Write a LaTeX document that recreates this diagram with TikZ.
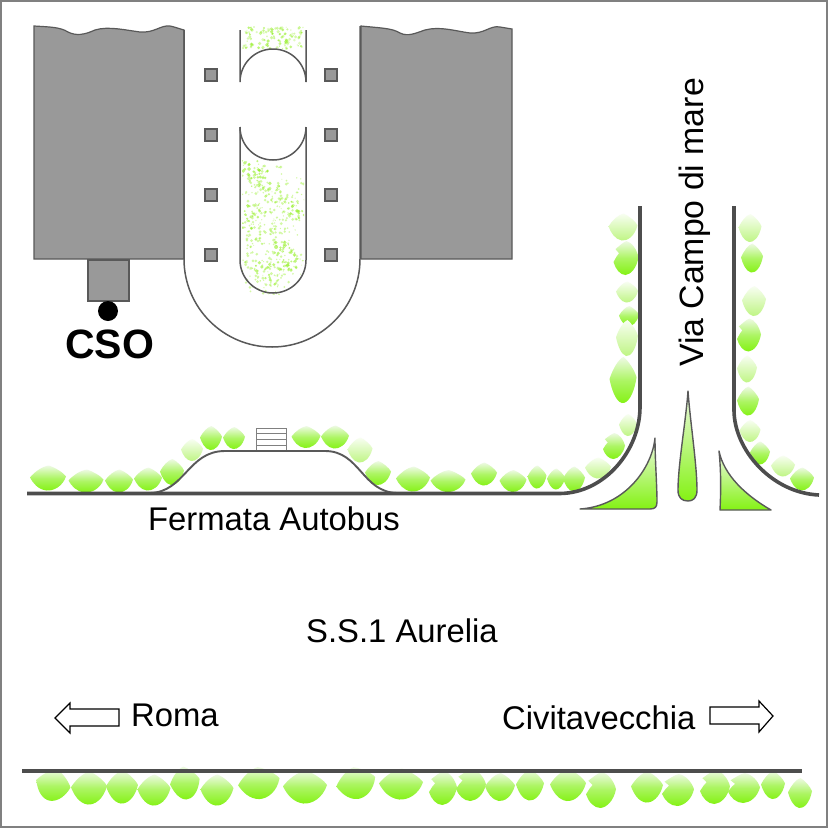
\documentclass[tikz,border=0pt]{standalone}
\usepackage{fontspec}
\setmainfont{Liberation Sans}
\definecolor{roadgray}{HTML}{4D4D4D}
\definecolor{blockgray}{HTML}{999999}
\definecolor{edgegray}{HTML}{595959}
\definecolor{limeA}{RGB}{132,242,20}
\definecolor{limeB}{RGB}{238,250,228}
\definecolor{limeC}{RGB}{190,245,130}
\definecolor{limeD}{RGB}{248,254,242}
\definecolor{fleck}{RGB}{150,240,40}
\tikzset{
  blockshape/.style={fill=blockgray,draw=edgegray,line width=1.2pt,line join=miter},
  thinroad/.style={draw=edgegray,line width=1.5pt},
  thickroad/.style={draw=roadgray,line width=3.6pt},
  pillar/.style={blockshape,line width=1.6pt},
  leafdark/.style={top color=limeB,bottom color=limeA,middle color=limeA!62!limeB,draw=none},
  leafpale/.style={top color=limeD,bottom color=limeC,draw=none},
  islandshape/.style={top color=limeB,bottom color=limeA,draw=edgegray,line width=1.4pt,line join=round},
  hollowarrow/.style={fill=white,draw=black,line width=1.2pt,line join=miter},
  bigtext/.style={font=\fontsize{32.8}{36}\selectfont,inner sep=0pt,text=black},
  stairline/.style={draw=gray,line width=1pt}
}
\newcommand{\leafshape}{(-.5,.02) .. controls (-.42,-.2) and (-.28,-.46) .. (-.04,-.5) .. controls (.16,-.52) and (.4,-.34) .. (.5,.06) .. controls (.44,.2) and (.2,.42) .. (.02,.5) .. controls (-.16,.46) and (-.38,.24) .. (-.5,.02) -- cycle}
\newcommand{\leafnotch}{(-.5,-.12) .. controls (-.42,-.32) and (-.24,-.5) .. (-.02,-.5) .. controls (.2,-.48) and (.42,-.3) .. (.5,.02) .. controls (.44,.24) and (.24,.46) .. (.02,.5) .. controls (-.12,.46) and (-.26,.36) .. (-.42,.26) -- (-.28,.14) -- (-.38,.04) -- cycle}
\begin{document}
\begin{tikzpicture}[x=1pt,y=-1pt]
\useasboundingbox (0,0) rectangle (828,828);
\fill[white] (0,0) rectangle (828,828);
\draw[gray,line width=2pt] (1,1) rectangle (826.5,826.5);

% buildings
\path[blockshape] (34,26) .. controls (50,27) and (60,27) .. (68,32) .. controls (76,36) and (84,35) .. (95,30) .. controls (108,26) and (125,30) .. (140,32) .. controls (155,33) and (160,25) .. (170,26) .. controls (175,27) and (180,29) .. (184,30) -- (184,259) -- (34,259) -- cycle;
\path[blockshape] (361,26) .. controls (380,28) and (392,28) .. (400,33) .. controls (408,37) and (416,33) .. (425,30) .. controls (440,26) and (455,31) .. (470,33) .. controls (485,34) and (490,25) .. (500,27) -- (512,29) -- (512,259) -- (361,259) -- cycle;
\path[blockshape] (88,260) rectangle (129,301);
\fill[black] (108,311) circle[radius=10];
\node[font=\fontsize{41}{42}\selectfont\bfseries,inner sep=0pt,anchor=base] (cso) at (109.5,358) {CSO};

% flecks
\begin{scope}
\clip (242,160) rectangle (304,294);
\pgfmathsetseed{4217}
\foreach \cx/\cy in {250/170,262/182,270/178,290/190,252/205,293/210,250/216,285/225,262/228,278/240,256/250,290/262,275/272,283/262,250/270,262/280,272/285,252/235,268/205,280/200}{
  \foreach \k in {1,...,22}{
    \pgfmathsetmacro{\px}{\cx+14*rand}
    \pgfmathsetmacro{\py}{\cy+13*rand}
    \pgfmathsetmacro{\rr}{0.5+1.1*rnd}
    \fill[fleck,opacity=0.42] (\px,\py) circle[radius=\rr];
  }
}
\foreach \cx/\cy in {260/180,295/208,250/215,283/252,265/272,253/168,288/262}{
  \foreach \k in {1,...,14}{
    \pgfmathsetmacro{\px}{\cx+10*rand}
    \pgfmathsetmacro{\py}{\cy+10*rand}
    \pgfmathsetmacro{\rr}{0.8+1.2*rnd}
    \fill[fleck,opacity=0.6] (\px,\py) circle[radius=\rr];
  }
}
\end{scope}
\begin{scope}
\clip (242,26) rectangle (304,52);
\foreach \k in {1,...,130}{
  \pgfmathsetmacro{\px}{273+30*rand}
  \pgfmathsetmacro{\py}{38+11*rand}
  \pgfmathsetmacro{\rr}{0.6+1.2*rnd}
  \pgfmathsetmacro{\oo}{0.25+0.4*rnd}
  \fill[fleck,opacity=\oo] (\px,\py) circle[radius=\rr];
}
\end{scope}
\fill[white] (240,150) -- (240,127) arc[start angle=180,end angle=0,radius=33] -- (306,150) -- cycle;
\fill[white] (239,127) rectangle (307,140);
\fill[white] (240,82) arc[start angle=180,end angle=360,radius=33] -- cycle;

% U-shaped drive
\path[thinroad] (184,30) -- (184,259) arc[start angle=180,end angle=0,radius=88] -- (360,26);
\path[thinroad] (240,127) -- (240,260) arc[start angle=180,end angle=0,radius=33] -- (306,127);
\path[thinroad] (240,127) arc[start angle=180,end angle=0,radius=33];
\path[thinroad] (240,30) -- (240,82) arc[start angle=180,end angle=360,radius=33] -- (306,30);
\foreach \py in {75,135,195,255}{
  \path[pillar] (205,\py-6) rectangle (217,\py+6);
  \path[pillar] (325,\py-6) rectangle (337,\py+6);
}

% hedges
\foreach \px/\py/\w/\h/\r/\s/\n in {
 48/478/36/25/0/leafdark/\leafshape, 86/481/35/23/0/leafdark/\leafshape, 119/481/28/23/0/leafdark/\leafshape, 148/479/28/23/0/leafdark/\leafshape,
 172/472/24/26/0/leafdark/\leafshape, 192/450/22/22/0/leafpale/\leafshape, 211/438/22/24/0/leafdark/\leafshape, 234/438/22/22/0/leafdark/\leafshape,
 306/437/29/22/0/leafdark/\leafshape, 335/437/28/23/0/leafdark/\leafshape, 360/450/25/25/0/leafpale/\leafshape, 378/473/26/24/0/leafdark/\leafshape,
 413/479/34/25/0/leafdark/\leafshape, 448/481/35/22/0/leafdark/\leafshape, 484/474/26/23/0/leafdark/\leafshape, 513/481/27/22/0/leafdark/\leafshape,
 537/477/19/23/0/leafdark/\leafshape, 556/479/18/21/0/leafdark/\leafshape, 574/479/22/25/0/leafdark/\leafshape,
 623/227/29/27/0/leafpale/\leafshape, 626/258/25/34/0/leafdark/\leafnotch, 627/292/22/21/0/leafpale/\leafshape, 629/316/20/20/0/leafdark/\leafshape,
 627/338/22/36/0/leafpale/\leafshape, 623/380/27/46/0/leafdark/\leafshape, 628/425/18/22/0/leafpale/\leafshape, 614/446/22/26/0/leafdark/\leafnotch,
 598/468/26/21/0/leafpale/\leafshape,
 750/228/23/28/0/leafpale/\leafshape, 752/258/22/29/0/leafdark/\leafshape, 754/301/24/30/0/leafpale/\leafshape, 749/335/24/33/0/leafdark/\leafnotch,
 747/369/20/27/0/leafpale/\leafshape, 748/401/22/29/0/leafdark/\leafshape, 750/431/21/22/0/leafpale/\leafshape, 760/453/20/23/0/leafdark/\leafshape,
 783/466/24/21/0/leafpale/\leafshape, 802/479/24/23/0/leafdark/\leafshape,
 53/785/35/32/-15/leafdark/\leafshape, 89/788/36/33/0/leafdark/\leafshape, 122/787/32/33/0/leafdark/\leafshape, 154/790/33/31/0/leafdark/\leafshape,
 185/783/30/33/8/leafdark/\leafshape, 217/790/33/31/0/leafdark/\leafshape, 259/783/42/32/8/leafdark/\leafshape, 305/787/44/33/0/leafdark/\leafshape,
 356/783/40/32/12/leafdark/\leafshape, 401/784/44/31/0/leafdark/\leafshape, 443/788/28/34/0/leafdark/\leafnotch, 471/785/30/32/0/leafdark/\leafnotch,
 500/787/30/28/0/leafdark/\leafshape, 530/785/28/31/0/leafdark/\leafshape, 568/785/36/32/0/leafdark/\leafshape, 601/790/30/36/0/leafdark/\leafnotch,
 647/787/32/31/0/leafdark/\leafshape, 678/790/32/32/0/leafdark/\leafnotch, 715/787/30/34/0/leafdark/\leafnotch, 744/788/32/30/0/leafdark/\leafnotch,
 773/785/24/28/0/leafdark/\leafshape, 800/793/24/30/0/leafdark/\leafshape}{
  \begin{scope}[shift={(\px,\py)},rotate=\r,x=\w pt,y=\h pt]
    \path[\s] \n;
  \end{scope}
}

% stairs
\path[stairline] (256,451) -- (256,428) -- (286,428) -- (286,451);
\foreach \py in {433,439,445}{ \path[stairline] (256,\py) -- (286,\py); }

% roads
\path[thinroad,line width=1.9pt] (150,493) .. controls (185,492) and (188,451) .. (225,451) -- (325,451) .. controls (360,451) and (362,492) .. (397,493);
\path[thickroad] (27,493.5) -- (560,493.5) .. controls (605,493) and (640,450) .. (640,407) -- (640,206);
\path[thickroad] (734,206) -- (734,410) .. controls (734,450) and (772,493) .. (819,495);
\path[thickroad] (22,771) -- (802,771);

% islands
\path[islandshape] (655,438) .. controls (652,468) and (625,506) .. (580,509) -- (650,509) .. controls (655,509) and (657,507) .. (657,502) .. controls (657,485) and (655,460) .. (655,438) -- cycle;
\path[islandshape] (688,391) .. controls (686,420) and (678,465) .. (678,490) .. controls (678,498) and (682,501) .. (688,501) .. controls (693,501) and (697,498) .. (697,490) .. controls (697,465) and (690,420) .. (688,391) -- cycle;
\path[islandshape] (719,451) .. controls (724,475) and (745,495) .. (771,510) -- (720,510) .. controls (721,490) and (721,470) .. (719,451) -- cycle;

% arrows
\path[hollowarrow] (55,718) -- (70,703) -- (70,709) -- (119,709) -- (119,726) -- (70,726) -- (70,733) -- cycle;
\path[hollowarrow] (773,716) -- (759,701) -- (759,707) -- (710,707) -- (710,724) -- (759,724) -- (759,732) -- cycle;

% labels
\node[bigtext,anchor=base west] (fermata) at (148,530) {Fermata Autobus};
\node[bigtext,anchor=base west] (aurelia) at (306,642) {S.S.1 Aurelia};
\node[bigtext,anchor=base west] (roma) at (131,726) {Roma};
\node[bigtext,anchor=base west] (civita) at (502,729) {Civitavecchia};
\node[bigtext,anchor=base west,rotate=90,font=\fontsize{33.8}{36}\selectfont] (campo) at (703,367) {Via Campo di mare};
\end{tikzpicture}
\end{document}
